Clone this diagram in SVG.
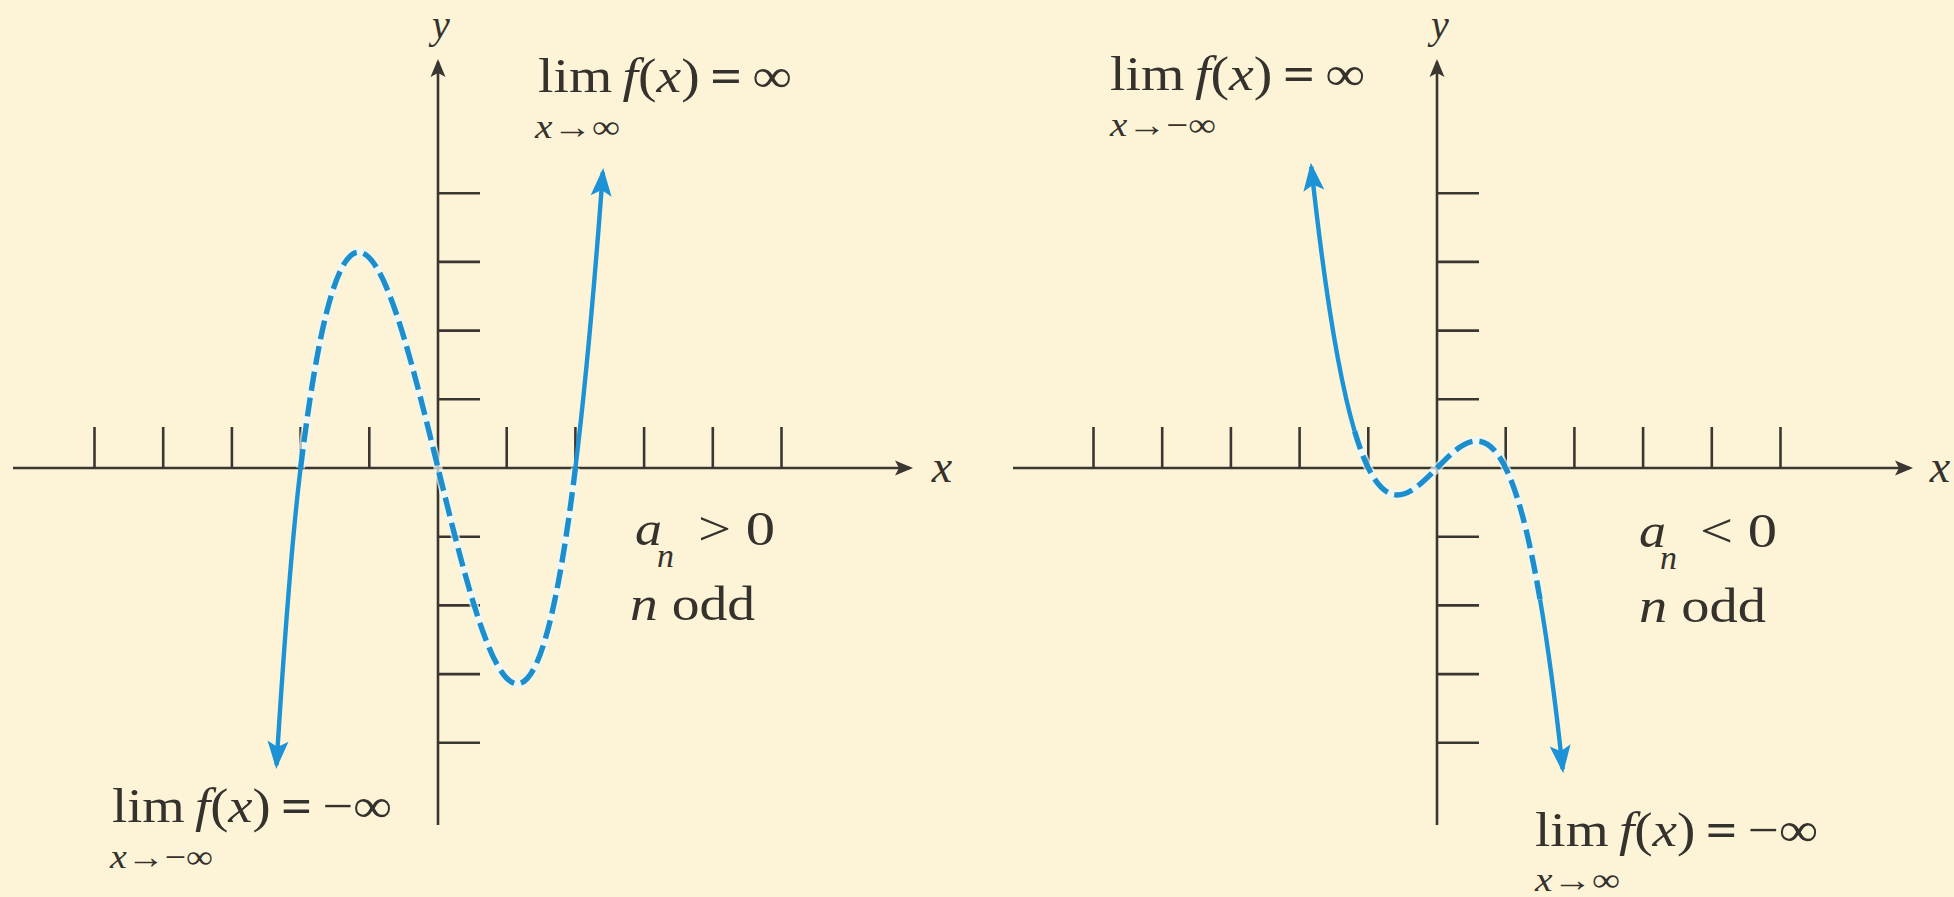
<svg xmlns="http://www.w3.org/2000/svg" width="1954" height="897" viewBox="0 0 1954 897">
<style>
.axis{stroke:#3a3733;stroke-width:2.6;fill:none}
.tick{stroke:#3a3733;stroke-width:2.6}
.dash-halo{fill:none;stroke:#eaf6fb;stroke-width:9;stroke-opacity:0.7}
.dash{fill:none;stroke:#1d8ecc;stroke-width:5.4;stroke-dasharray:19 7}
.solid{fill:none;stroke:#1b93d6;stroke-width:4.4}
text{font-family:"Liberation Serif","Times New Roman",serif;fill:#35322e}
.lbl{font-size:48px}
.sub{font-size:33px}
.ax{font-size:40px;font-style:italic}
.axx{font-size:46px;font-style:italic}
.it{font-style:italic}
.eq{font-weight:bold}
</style>
<defs>
<marker id="axArrow" markerUnits="userSpaceOnUse" viewBox="-18 -9 22 18" markerWidth="22" markerHeight="18" refX="0" refY="0" orient="auto">
<path d="M3,0 L-15,-7.5 L-11,0 L-15,7.5 Z" fill="#3a3733"/>
</marker>
<marker id="cArrow" markerUnits="userSpaceOnUse" viewBox="-27 -12 32 24" markerWidth="32" markerHeight="24" refX="0" refY="0" orient="auto">
<path d="M4,0 L-24,-10.5 L-18,0 L-24,10.5 Z" fill="#1b93d6"/>
</marker>
</defs>
<rect x="0" y="0" width="1954" height="897" fill="#fdf4d7"/>

<g id="left-axes">
<line class="axis" x1="13" y1="468" x2="910" y2="468" marker-end="url(#axArrow)"/>
<line class="axis" x1="438" y1="825" x2="438" y2="62" marker-end="url(#axArrow)"/>
<g class="tick">
<line x1="94.5" y1="427" x2="94.5" y2="468"/>
<line x1="163.2" y1="427" x2="163.2" y2="468"/>
<line x1="231.9" y1="427" x2="231.9" y2="468"/>
<line x1="300.6" y1="427" x2="300.6" y2="468"/>
<line x1="369.3" y1="427" x2="369.3" y2="468"/>
<line x1="506.7" y1="427" x2="506.7" y2="468"/>
<line x1="575.4" y1="427" x2="575.4" y2="468"/>
<line x1="644.1" y1="427" x2="644.1" y2="468"/>
<line x1="712.8" y1="427" x2="712.8" y2="468"/>
<line x1="781.5" y1="427" x2="781.5" y2="468"/>
<line x1="438" y1="193.2" x2="480" y2="193.2"/>
<line x1="438" y1="261.9" x2="480" y2="261.9"/>
<line x1="438" y1="330.6" x2="480" y2="330.6"/>
<line x1="438" y1="399.3" x2="480" y2="399.3"/>
<line x1="438" y1="536.7" x2="480" y2="536.7"/>
<line x1="438" y1="605.4" x2="480" y2="605.4"/>
<line x1="438" y1="674.1" x2="480" y2="674.1"/>
<line x1="438" y1="742.8" x2="480" y2="742.8"/>
</g>
<text class="ax" x="441" y="38" text-anchor="middle">y</text>
<text class="axx" x="942" y="482" text-anchor="middle">x</text>
</g>

<g id="right-axes">
<line class="axis" x1="1013" y1="468" x2="1910" y2="468" marker-end="url(#axArrow)"/>
<line class="axis" x1="1437" y1="825" x2="1437" y2="62" marker-end="url(#axArrow)"/>
<g class="tick">
<line x1="1093.5" y1="427" x2="1093.5" y2="468"/>
<line x1="1162.2" y1="427" x2="1162.2" y2="468"/>
<line x1="1230.9" y1="427" x2="1230.9" y2="468"/>
<line x1="1299.6" y1="427" x2="1299.6" y2="468"/>
<line x1="1368.3" y1="427" x2="1368.3" y2="468"/>
<line x1="1505.7" y1="427" x2="1505.7" y2="468"/>
<line x1="1574.4" y1="427" x2="1574.4" y2="468"/>
<line x1="1643.1" y1="427" x2="1643.1" y2="468"/>
<line x1="1711.8" y1="427" x2="1711.8" y2="468"/>
<line x1="1780.5" y1="427" x2="1780.5" y2="468"/>
<line x1="1437" y1="193.2" x2="1479" y2="193.2"/>
<line x1="1437" y1="261.9" x2="1479" y2="261.9"/>
<line x1="1437" y1="330.6" x2="1479" y2="330.6"/>
<line x1="1437" y1="399.3" x2="1479" y2="399.3"/>
<line x1="1437" y1="536.7" x2="1479" y2="536.7"/>
<line x1="1437" y1="605.4" x2="1479" y2="605.4"/>
<line x1="1437" y1="674.1" x2="1479" y2="674.1"/>
<line x1="1437" y1="742.8" x2="1479" y2="742.8"/>
</g>
<text class="ax" x="1440" y="38" text-anchor="middle">y</text>
<text class="axx" x="1940" y="482" text-anchor="middle">x</text>
</g>

<g id="connectors">
<path class="dash-halo" d="M300.6,468 C392.2,-279.46 483.8,1215.46 575.4,468"/>
<path class="dash" d="M300.6,468 C392.2,-279.46 483.8,1215.46 575.4,468"/>
<path class="solid" d="M575.4,468 C584.56,393.25 593.72,296.09 602.88,172.01" marker-end="url(#cArrow)"/>
<path class="solid" d="M300.6,468 Q289.3,560.2 276.5,765" marker-end="url(#cArrow)"/>

<path class="dash-halo" d="M1354.56,431 C1416.39,640.35 1478.22,236.76 1540.05,599.39"/>
<path class="dash" d="M1354.56,431 C1416.39,640.35 1478.22,236.76 1540.05,599.39"/>
<path class="solid" d="M1354.56,431 C1340.13,382.15 1325.71,299.91 1311.28,166.79" marker-end="url(#cArrow)"/>
<path class="solid" d="M1540.05,599.39 C1547.61,643.71 1555.16,699.48 1562.72,769.21" marker-end="url(#cArrow)"/>
</g>

<g id="label-left-top">
<text class="lbl" x="538" y="92" textLength="254" lengthAdjust="spacingAndGlyphs">lim<tspan class="it" dx="9">f</tspan>(<tspan class="it">x</tspan>)<tspan class="eq" dx="9">=</tspan><tspan dx="9">∞</tspan></text>
<text class="sub" x="535" y="138" textLength="85" lengthAdjust="spacingAndGlyphs"><tspan class="it">x</tspan>→∞</text>
</g>
<g id="label-left-bottom">
<text class="lbl" x="112" y="822" textLength="280" lengthAdjust="spacingAndGlyphs">lim<tspan class="it" dx="9">f</tspan>(<tspan class="it">x</tspan>)<tspan class="eq" dx="9">=</tspan><tspan dx="9">−∞</tspan></text>
<text class="sub" x="110" y="868" textLength="103" lengthAdjust="spacingAndGlyphs"><tspan class="it">x</tspan>→−∞</text>
</g>
<g id="label-left-cond">
<text class="lbl it" x="635" y="545" textLength="27" lengthAdjust="spacingAndGlyphs">a</text>
<text class="it" x="657" y="567" font-size="34" textLength="17" lengthAdjust="spacingAndGlyphs">n</text>
<text class="lbl" x="698" y="545" textLength="77" lengthAdjust="spacingAndGlyphs">&gt; 0</text>
<text class="lbl" x="630" y="620" textLength="125" lengthAdjust="spacingAndGlyphs"><tspan class="it">n</tspan> odd</text>
</g>

<g id="label-right-top">
<text class="lbl" x="1110" y="90" textLength="255" lengthAdjust="spacingAndGlyphs">lim<tspan class="it" dx="9">f</tspan>(<tspan class="it">x</tspan>)<tspan class="eq" dx="9">=</tspan><tspan dx="9">∞</tspan></text>
<text class="sub" x="1110" y="136" textLength="106" lengthAdjust="spacingAndGlyphs"><tspan class="it">x</tspan>→−∞</text>
</g>
<g id="label-right-bottom">
<text class="lbl" x="1535" y="846" textLength="283" lengthAdjust="spacingAndGlyphs">lim<tspan class="it" dx="9">f</tspan>(<tspan class="it">x</tspan>)<tspan class="eq" dx="9">=</tspan><tspan dx="9">−∞</tspan></text>
<text class="sub" x="1535" y="891" textLength="85" lengthAdjust="spacingAndGlyphs"><tspan class="it">x</tspan>→∞</text>
</g>
<g id="label-right-cond">
<text class="lbl it" x="1639" y="547" textLength="27" lengthAdjust="spacingAndGlyphs">a</text>
<text class="it" x="1660" y="569" font-size="34" textLength="17" lengthAdjust="spacingAndGlyphs">n</text>
<text class="lbl" x="1700" y="547" textLength="77" lengthAdjust="spacingAndGlyphs">&lt; 0</text>
<text class="lbl" x="1639" y="622" textLength="127" lengthAdjust="spacingAndGlyphs"><tspan class="it">n</tspan> odd</text>
</g>
</svg>
